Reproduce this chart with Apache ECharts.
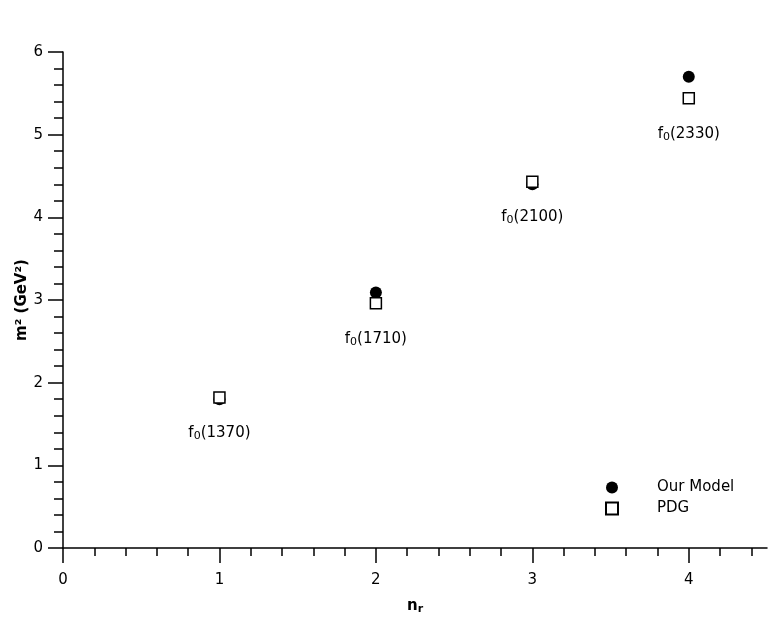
<!DOCTYPE html>
<html>
<head>
<meta charset="utf-8">
<script src="https://cdn.jsdelivr.net/npm/echarts@6/dist/echarts.min.js"></script>
<style>html,body{margin:0;padding:0;background:#fff}#c{width:780px;height:634px}</style>
</head>
<body>
<div id="c"></div>
<script>
const nr = [1, 2, 3, 4];
const ourModel = [1.80, 3.09, 4.40, 5.70];
const pdg = [1.82, 2.96, 4.43, 5.44];
const stateNames = ['1370', '1710', '2100', '2330'];
const xTicks = [0, 1, 2, 3, 4];

const FONT = 'DejaVu Sans';
const chart = echarts.init(document.getElementById('c'));
chart.setOption({
  animation: false,
  backgroundColor: '#fff',
  textStyle: { fontFamily: FONT },
  grid: { left: 63, top: 52, right: 13, bottom: 86, containLabel: false },
  xAxis: {
    type: 'value', min: 0, max: 4.5, interval: 1,
    name: '{n|n}{r|r}', nameLocation: 'middle', nameGap: 49,
    nameTextStyle: { rich: {
      n: { fontFamily: FONT, fontWeight: 'bold', fontSize: 15, color: '#000' },
      r: { fontFamily: FONT, fontWeight: 'bold', fontSize: 11, color: '#000', verticalAlign: 'bottom', padding: [7, 0, 0, 0] }
    } },
    axisLine: { show: true, onZero: false, lineStyle: { color: '#000', width: 1.5 } },
    axisTick: { show: true, length: 15, customValues: xTicks, lineStyle: { color: '#000', width: 1.5 } },
    minorTick: { show: true, splitNumber: 5, length: 8, lineStyle: { color: '#000', width: 1.5 } },
    axisLabel: { customValues: xTicks, margin: 25, color: '#000', fontSize: 15, fontFamily: FONT },
    splitLine: { show: false }, minorSplitLine: { show: false }
  },
  yAxis: {
    type: 'value', min: 0, max: 6, interval: 1,
    name: 'm² (GeV²)', nameLocation: 'middle', nameGap: 33, nameMoveOverlap: false,
    nameTextStyle: { fontFamily: FONT, fontWeight: 'bold', fontSize: 15, color: '#000' },
    axisLine: { show: true, onZero: false, lineStyle: { color: '#000', width: 1.5 } },
    axisTick: { show: true, length: 15, lineStyle: { color: '#000', width: 1.5 } },
    minorTick: { show: true, splitNumber: 5, length: 9, lineStyle: { color: '#000', width: 1.5 } },
    axisLabel: { margin: 20, color: '#000', fontSize: 15, fontFamily: FONT },
    splitLine: { show: false }, minorSplitLine: { show: false }
  },
  legend: {
    orient: 'vertical', left: 600, top: 475, itemWidth: 12, itemHeight: 12, itemGap: 6,
    textStyle: { fontFamily: FONT, fontSize: 15, color: '#000', padding: [0, 0, 0, 34] },
    data: ['Our Model', 'PDG']
  },
  series: [
    {
      name: 'Our Model', type: 'scatter', symbol: 'circle', symbolSize: 12,
      itemStyle: { color: '#000', opacity: 1 },
      data: nr.map((x, i) => [x, ourModel[i]]), z: 2
    },
    {
      name: 'PDG', type: 'scatter', symbol: 'rect', symbolSize: 11,
      itemStyle: { color: '#fff', borderColor: '#000', borderWidth: 1.5, opacity: 1 },
      label: {
        show: true, position: 'bottom', distance: 21, color: '#000',
        formatter: p => '{a|f}{s|0}{a|(' + stateNames[p.dataIndex] + ')}',
        rich: {
          a: { fontFamily: FONT, fontSize: 15, color: '#000' },
          s: { fontFamily: FONT, fontSize: 11, color: '#000', verticalAlign: 'bottom', padding: [6, 0, 0, 0] }
        }
      },
      data: nr.map((x, i) => [x, pdg[i]]), z: 3
    }
  ]
});
</script>
</body>
</html>
